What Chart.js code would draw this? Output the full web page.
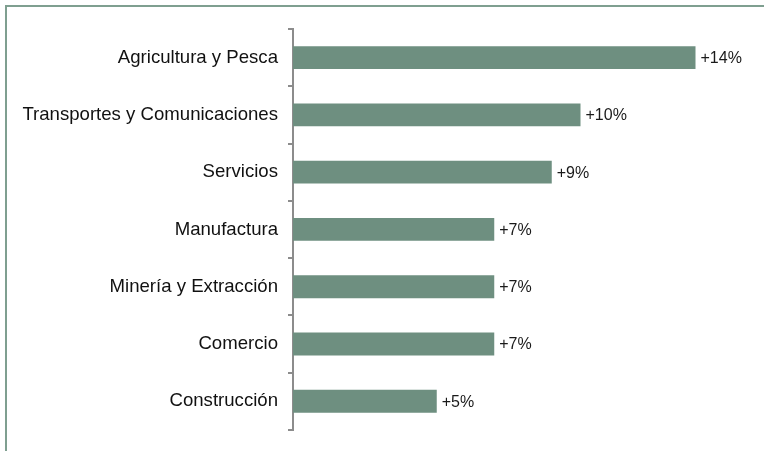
<!DOCTYPE html>
<html>
<head>
<meta charset="utf-8">
<script src="https://cdn.jsdelivr.net/npm/chart.js@4.4.1/dist/chart.umd.min.js"></script>
<style>
    body { margin: 0; background: #fff; }
    #frame {
        position: absolute; left: 5px; top: 5px; width: 759px; height: 446px;
        border-left: 2px solid #7f9f90; border-top: 2px solid #7f9f90;
        box-sizing: border-box;
    }
    #wrap { position: absolute; left: 0; top: 0; width: 764px; height: 451px; }
</style>
</head>
<body>
<div id="frame"></div>
<div id="wrap"><canvas id="chart" width="764" height="451"></canvas></div>
<script>
const categories = ['Agricultura y Pesca', 'Transportes y Comunicaciones', 'Servicios', 'Manufactura', 'Minería y Extracción', 'Comercio', 'Construcción'];
const values = [14, 10, 9, 7, 7, 7, 5];
const valueLabels = ['+14%', '+10%', '+9%', '+7%', '+7%', '+7%', '+5%'];

// writes the "+n%" text at the end of each bar
const barLabels = {
    id: 'barLabels',
    afterDatasetsDraw(chart) {
        const ctx = chart.ctx;
        const meta = chart.getDatasetMeta(0);
        ctx.save();
        ctx.font = '16px "Liberation Sans", Arial, sans-serif';
        ctx.fillStyle = '#1a1a1a';
        ctx.textAlign = 'left';
        ctx.textBaseline = 'middle';
        meta.data.forEach(function(bar, i) {
            ctx.fillText(valueLabels[i], bar.x + 5, bar.y + 1);
        });
        ctx.restore();
    }
};

function renderChart() {
    const ctx = document.getElementById('chart').getContext('2d');
    new Chart(ctx, {
        type: 'bar',
        data: {
            labels: categories,
            datasets: [{
                data: values,
                backgroundColor: '#6e8f80',
                borderWidth: 0,
                categoryPercentage: 1,
                barPercentage: 0.4
            }]
        },
        options: {
            indexAxis: 'y',
            responsive: false,
            animation: false,
            layout: { padding: { top: 29, bottom: 17, right: 11, left: 0 } },
            plugins: { legend: { display: false }, tooltip: { enabled: false } },
            scales: {
                x: { display: false, min: 0, max: 16 },
                y: {
                    offset: true,
                    afterFit(scale) { scale.width = 293; },
                    grid: { offset: true, drawOnChartArea: false, tickLength: 5, color: '#8c8c8c', lineWidth: 2 },
                    border: { display: true, color: '#8c8c8c', width: 2 },
                    ticks: { color: '#111', padding: 10, font: { family: '"Liberation Sans", Arial, sans-serif', size: 18.6 } }
                }
            }
        },
        plugins: [barLabels]
    });
}

document.addEventListener('DOMContentLoaded', renderChart);
</script>
</body>
</html>
